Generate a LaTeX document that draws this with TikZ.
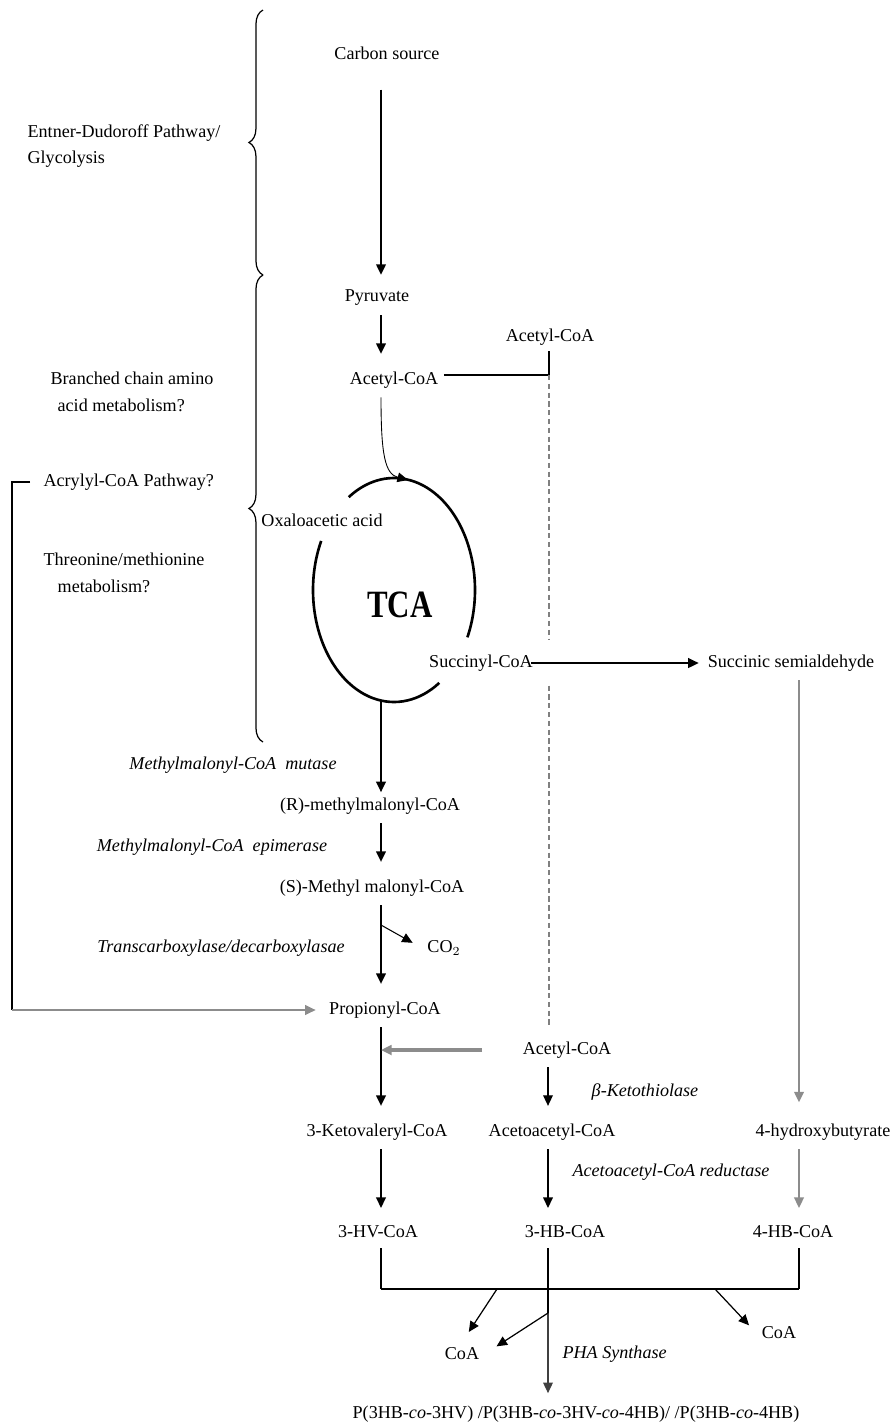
\documentclass[tikz,border=0pt]{standalone}
\usepackage{fontspec}
\setmainfont{Liberation Serif}
\usepackage{tikz}
\usetikzlibrary{arrows.meta, positioning, calc, decorations.pathreplacing}

\tikzset{
	met/.style={font=\fontsize{10.3}{15}\selectfont, inner sep=3pt},
	enz/.style={met, font=\fontsize{10.3}{15}\selectfont\itshape},
	conn/.style={line width=1pt},
	arr/.style={conn, -{Triangle[length=6pt,width=5.5pt]}, shorten <=2pt, shorten >=7pt},
	garr/.style={arr, black!45},
	dashl/.style={black!50, line width=0.6pt, dash pattern=on 3pt off 2pt},
	brc/.style={decorate, decoration={brace, amplitude=8pt}, line width=0.7pt},
	cyc/.style={line width=1.5pt}
}

\begin{document}
\begin{tikzpicture}[x=0.02cm, y=-0.02cm]
			\useasboundingbox (0,0) rectangle (896,1428);
			
			\coordinate (col1) at (381,0);
			\coordinate (col2) at (548,0);
			\coordinate (col3) at (799,0);
			\coordinate (bar) at (0,1289);
			
			% side labels
			\node[met, anchor=west, align=left] (ed) at (22,146) {Entner-Dudoroff Pathway/\\Glycolysis};
			\node[met, anchor=west, align=left] (bca) at (45,392) {Branched chain amino\\\hspace*{4pt}acid metabolism?};
			\node[met, anchor=west] (acr) at (38,482) {Acrylyl-CoA Pathway?};
			\node[met, anchor=west, align=left] (thr) at (38,573) {Threonine/methionine\\\hspace*{8pt}metabolism?};
			\draw[brc] (263,275) -- (263,10);
			\draw[brc] (263,742) -- (263,275);
			
			% metabolites
			\node[met] (carbon) at (387,53) {Carbon source};
			\node[met] (pyr) at (377,298) {Pyruvate};
			\node[met] (acoa) at (394,380) {Acetyl-CoA};
			\node[met] (acoa2) at (550,337) {Acetyl-CoA};
			\node[met] (oxa) at (322,520) {Oxaloacetic acid};
			\node[font=\fontsize{22}{24}\selectfont\bfseries, xscale=0.8] (tca) at (400,605) {TCA};
			\node[met] (succ) at (481,663) {Succinyl-CoA};
			\node[met] (ssa) at (791,663) {Succinic semialdehyde};
			\node[met] (rmm) at (370,806) {(R)-methylmalonyl-CoA};
			\node[met] (smm) at (372,888) {(S)-Methyl malonyl-CoA};
			\node[met] (co2) at (444,948) {CO$_2$};
			\node[met] (prop) at (385,1010) {Propionyl-CoA};
			\node[met] (acoa3) at (567,1050) {Acetyl-CoA};
			\node[met] (kv) at (377,1132) {3-Ketovaleryl-CoA};
			\node[met] (aac) at (552,1132) {Acetoacetyl-CoA};
			\node[met] (hbut) at (823,1132) {4-hydroxybutyrate};
			\node[met] (hv) at (378,1232) {3-HV-CoA};
			\node[met] (hb) at (565,1232) {3-HB-CoA};
			\node[met] (fhb) at (793,1232) {4-HB-CoA};
			\node[met] (coa1) at (462,1354) {CoA};
			\node[met] (coa2) at (779,1333) {CoA};
			\node[met] (pha) at (576,1414) {P(3HB-\textit{co}-3HV) /P(3HB-\textit{co}-3HV-\textit{co}-4HB)/ /P(3HB-\textit{co}-4HB)};
			
			% enzymes
			\node[enz] (mut) at (233,765) {Methylmalonyl-CoA\ \ mutase};
			\node[enz] (epi) at (212,847) {Methylmalonyl-CoA\ \ epimerase};
			\node[enz] (trans) at (221,948) {Transcarboxylase/decarboxylasae};
			\node[enz] (ket) at (645,1092) {β-Ketothiolase};
			\node[enz] (red) at (671,1172) {Acetoacetyl-CoA reductase};
			\node[enz, anchor=west] (syn) at (557,1354) {PHA Synthase};
			
			% TCA cycle
			\draw[cyc] plot[domain=124:-25, samples=50, smooth] ({394+81*cos(\x)}, {590-112*sin(\x)});
			\draw[cyc] plot[domain=-56:-206, samples=50, smooth] ({394+81*cos(\x)}, {590-112*sin(\x)});
			\coordinate (cyctop) at (408,480);
			\coordinate (cycbot) at (381,701);
			
			\draw[arr, shorten <=14pt, shorten >=5.5pt] (carbon.south -| col1) -- (pyr.north -| col1);
			\draw[arr] (pyr.south -| col1) -- (acoa.north -| col1);
			\coordinate (jn) at (549,375);
			\draw[conn] (acoa.east |- jn) -- (jn) -- (acoa2.south -| jn);
			\draw[dashl, shorten >=5pt] (jn) -- (jn |- succ.north);
			\draw[dashl, shorten <=5pt, shorten >=5pt] (jn |- succ.south) -- (jn |- acoa3.north);
			\draw[arr, line width=0.5pt, shorten >=0pt] (acoa.south -| col1) .. controls (381,455) and (385,474) .. (cyctop);
			\draw[arr, line width=1.2pt, shorten <=-4pt, shorten >=2pt] (succ.east) -- (ssa.west);
			\draw[arr, shorten <=0pt, shorten >=0pt] (cycbot) -- (rmm.north -| col1);
			\draw[arr] (rmm.south -| col1) -- (smm.north -| col1);
			\draw[arr] (smm.south -| col1) -- (prop.north -| col1);
			\coordinate (cob) at (381,925);
			\draw[arr, line width=0.6pt, shorten <=0pt, shorten >=6pt] (cob) -- (co2.west);
			
			\coordinate (loop) at (12,1010);
			\draw[conn, shorten <=4.5pt] (acr.west) -| (loop);
			\draw[garr, shorten <=0pt, shorten >=4.5pt] (loop) -- (prop.west);
			
			\draw[garr, shorten >=9pt] (ssa.south -| col3) -- (hbut.north -| col3);
			\draw[garr] (hbut.south -| col3) -- (fhb.north -| col3);
			\draw[arr] (prop.south -| col1) -- (kv.north -| col1);
			\draw[garr, line width=2.2pt, shorten <=20pt, shorten >=0pt] (acoa3.west) -- (acoa3.west -| col1);
			\draw[arr, line width=0.7pt] (acoa3.south -| col2) -- (aac.north -| col2);
			\draw[arr] (kv.south -| col1) -- (hv.north -| col1);
			\draw[arr, line width=0.7pt] (aac.south -| col2) -- (hb.north -| col2);
			
			\foreach \n/\c in {hv/col1,hb/col2,fhb/col3}
				\draw[conn, shorten <=2.5pt] (\n.south -| \c) -- (\c |- bar);
			\draw[conn] (col1 |- bar) -- (col3 |- bar);
			
			\coordinate (b1) at (497,1289);
			\coordinate (b2) at (548,1313);
			\coordinate (b3) at (715,1289);
			\draw[conn] (col2 |- bar) -- (b2);
			\draw[arr, line width=0.7pt, black!75, shorten <=0pt, shorten >=4pt] (b2) -- (pha.north -| col2);
			\draw[arr, line width=0.7pt, shorten <=0pt, shorten >=7pt] (b1) -- (coa1.north);
			\draw[arr, line width=0.7pt, shorten <=0pt, shorten >=8pt] (b2) -- (coa1.east);
			\draw[arr, line width=0.7pt, shorten <=0pt, shorten >=6pt] (b3) -- (coa2.west);
\end{tikzpicture}
\end{document}
